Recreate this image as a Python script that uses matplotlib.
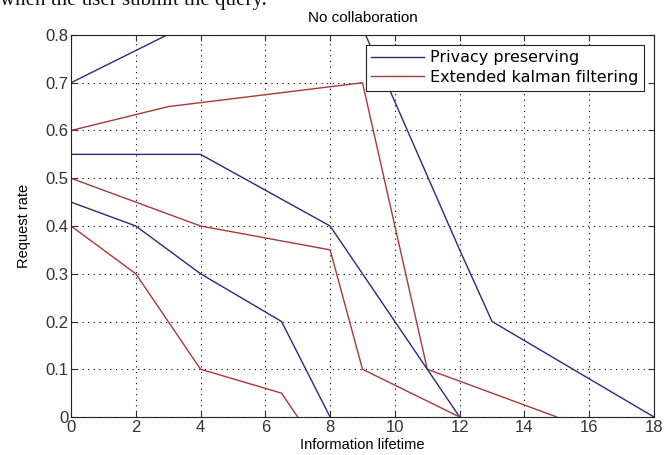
import numpy as np
import matplotlib
matplotlib.use("Agg")
import matplotlib.pyplot as plt

# blue curves (Privacy preserving)
pp1_x = [0, 8, 12, 13, 18]
pp1_y = [0.7, 0.97, 0.35, 0.2, 0.0]
pp2_x = [0, 4, 8, 12]
pp2_y = [0.55, 0.55, 0.4, 0.0]
pp3_x = [0, 2, 4, 6.5, 8]
pp3_y = [0.45, 0.4, 0.3, 0.2, 0.0]

# red curves (Extended kalman filtering)
ekf1_x = [0, 3, 9, 11, 15]
ekf1_y = [0.6, 0.65, 0.7, 0.1, 0.0]
ekf2_x = [0, 4, 8, 9, 12]
ekf2_y = [0.5, 0.4, 0.35, 0.1, 0.0]
ekf3_x = [0, 2, 4, 6.5, 7]
ekf3_y = [0.4, 0.3, 0.1, 0.05, 0.0]

xticks = np.arange(0, 19, 2)
yticks = np.arange(0, 0.81, 0.1)

blue = "#2b2b78"
red = "#a8383a"

plt.rcParams['font.family'] = ['Liberation Sans', 'DejaVu Sans']

fig = plt.figure(figsize=(6.71, 4.55), dpi=100)
ax = fig.add_axes([71 / 671, 38 / 455, 583 / 671, 382 / 455])

ax.plot(pp1_x, pp1_y, color=blue, lw=1.0, label="Privacy preserving")
ax.plot(ekf1_x, ekf1_y, color=red, lw=1.0, label="Extended kalman filtering")
ax.plot(pp2_x, pp2_y, color=blue, lw=1.0)
ax.plot(pp3_x, pp3_y, color=blue, lw=1.0)
ax.plot(ekf2_x, ekf2_y, color=red, lw=1.0)
ax.plot(ekf3_x, ekf3_y, color=red, lw=1.0)

ax.set_xlim(0, 18)
ax.set_ylim(0, 0.8)
ax.set_xticks(xticks)
ax.set_yticks(yticks)
ax.set_xticklabels([str(v) for v in xticks])
ax.set_yticklabels(["0"] + ["%.1f" % v for v in yticks[1:]])
ax.tick_params(direction="in", top=True, right=True, length=4, labelsize=12, colors="#333333", pad=2)
ax.grid(True, color="black", linestyle=(0, (1, 4)), linewidth=0.8)
for s in ax.spines.values():
    s.set_linewidth(0.8)
    s.set_color("#222222")

ax.set_xlabel("Information lifetime", fontsize=10.5, labelpad=2)
ax.set_ylabel("Request rate", fontsize=10.5, labelpad=10)
ax.set_title("No collaboration", fontsize=11, pad=9)

leg = ax.legend(loc="upper right", prop={"family": "DejaVu Sans", "size": 11.5},
                frameon=True, fancybox=False,
                edgecolor="#222222", framealpha=1, handlelength=3.3, handletextpad=0.4,
                borderaxespad=0.6, borderpad=0.35, labelspacing=0.3)
leg.get_frame().set_linewidth(0.8)

fig.text(0.0, 1.0, "when the user submit the query.", family=["Liberation Serif", "DejaVu Serif"],
         fontsize=15, va="center", ha="left", color="#111111")

fig.savefig("out.png", dpi=100)
